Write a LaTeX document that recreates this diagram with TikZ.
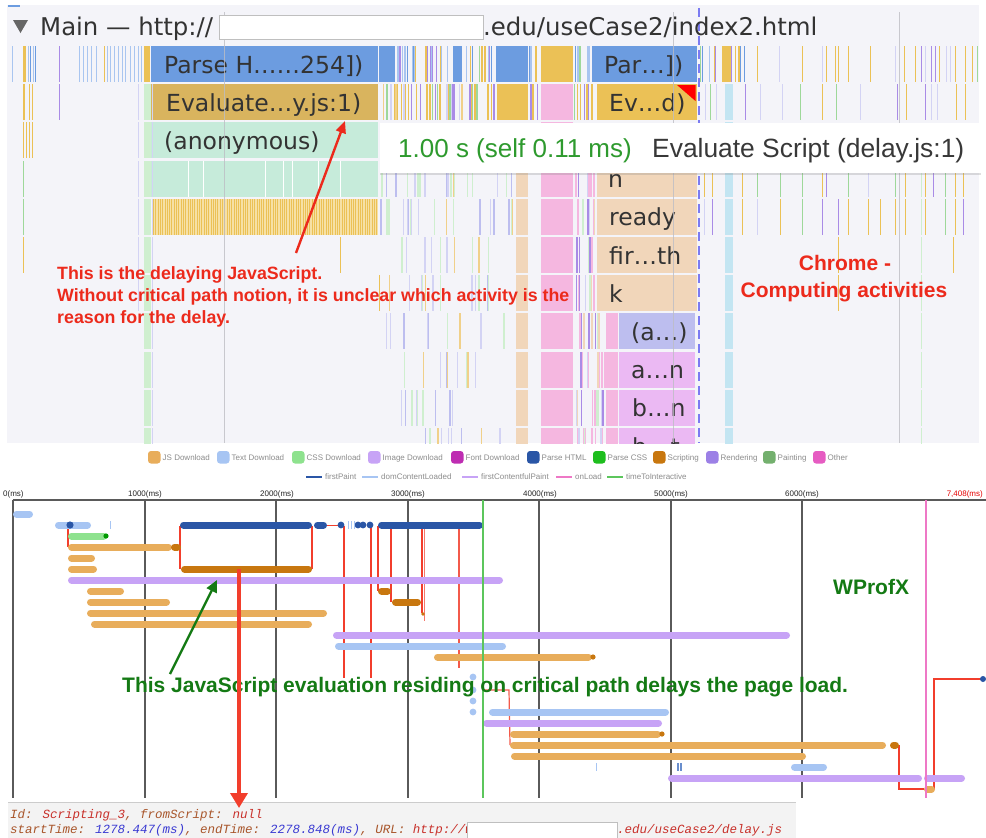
\documentclass[tikz,border=0pt]{standalone}
\usepackage{fontspec}
\setmainfont{Liberation Sans}
\newfontfamily\dvs{DejaVu Sans}
\newfontfamily\lmono{Liberation Mono}
\usetikzlibrary{arrows.meta,shadows}

% flame chart palette
\definecolor{panelbg}{HTML}{F4F4F9}
\definecolor{fBlue}{HTML}{6C9CE0}
\definecolor{fBlueL}{HTML}{A9C5F0}
\definecolor{fYel}{HTML}{EBC156}
\definecolor{fGold}{HTML}{D9B45E}
\definecolor{fPink}{HTML}{F5B7E0}
\definecolor{fMint}{HTML}{C6EBDA}
\definecolor{fTan}{HTML}{F1D6BA}
\definecolor{fLav}{HTML}{BDBEEF}
\definecolor{fMag}{HTML}{EBB9F3}
\definecolor{fPur}{HTML}{A98BE6}
\definecolor{fGrn}{HTML}{9ED89A}
\definecolor{fGrnP}{HTML}{CFEFCF}
\definecolor{fLavP}{HTML}{D3D3F4}
\definecolor{fYelP}{HTML}{F0D08A}
\definecolor{fYelBg}{HTML}{F6E1A6}
\definecolor{fCyan}{HTML}{C3E5F2}
\definecolor{fText}{HTML}{333333}
\definecolor{fDash}{HTML}{7B7BF2}
\definecolor{fGrid}{HTML}{BDBDC4}
\definecolor{tipGreen}{HTML}{2E9A2E}
\definecolor{noteRed}{HTML}{EC2A1C}
% WProfX palette
\definecolor{wJS}{HTML}{E8AD5B}
\definecolor{wText}{HTML}{A7C5F3}
\definecolor{wCSS}{HTML}{8EE28E}
\definecolor{wImg}{HTML}{C7A3F6}
\definecolor{wFont}{HTML}{BE2DB2}
\definecolor{wHTML}{HTML}{2A56A6}
\definecolor{wPCSS}{HTML}{1EBE1E}
\definecolor{wScr}{HTML}{C8770F}
\definecolor{wRend}{HTML}{9C80E6}
\definecolor{wPaint}{HTML}{74B06E}
\definecolor{wOther}{HTML}{E65CC2}
\definecolor{wCrit}{HTML}{F23E2C}
\definecolor{wAxis}{HTML}{5A5A5A}
\definecolor{wLegend}{HTML}{8C8C8C}
\definecolor{wTTI}{HTML}{5CC65C}
\definecolor{wLoad}{HTML}{EE78C6}
\definecolor{noteGreen}{HTML}{147A14}
\definecolor{infoBg}{HTML}{F3F3F3}
\definecolor{infoKey}{HTML}{A8552A}
\definecolor{infoStr}{HTML}{C8302A}
\definecolor{infoNum}{HTML}{3A3AD2}

\pgfmathdeclarerandomlist{mixA}{{fBlueL}{fBlue}{fYel}{fPur}{fGrn}{fBlueL}}
\pgfmathdeclarerandomlist{mixB}{{fYel}{fYel}{fYelP}{fPur}{fGrn}{fYel}{fLavP}}
\pgfmathdeclarerandomlist{mixC}{{fLavP}{fGrnP}{fLavP}{fYelP}{fGrnP}{fLav}}
\pgfmathdeclarerandomlist{mixD}{{fPink}{fLavP}{fTan}{fPink}{fGrnP}{fPur}}
\pgfmathdeclarerandomlist{mixR}{{fYel}{fYel}{fYel}{fYel}{fGrn}{fPur}{fLavP}}

% flame chart helpers (row index, x range, colour)
\newcommand\fblk[4]{\fill[#4] (#2,{46+(#1-1)*38.2}) rectangle (#3,{82+(#1-1)*38.2});}
\newcommand\fvl[3]{\fill[#3] (#2,{46+(#1-1)*38.2}) rectangle ++(1.3,36);}
\newcommand\fbusy[5]{\foreach \k in {1,...,#4}{%
  \pgfmathsetmacro\xx{#2+rnd*(#3-#2)}%
  \pgfmathrandomitem{\cc}{#5}%
  \fill[fill=\cc] (\xx,{46+(#1-1)*38.2}) rectangle ++(1.3,36);}}
\newcommand\fsparse[3]{\foreach \x in {#2}{%
  \pgfmathrandomitem{\cc}{#3}%
  \fill[fill=\cc] (\x,{46+(#1-1)*38.2}) rectangle ++(1.3,36);}}
\newcommand\flabel[4]{\node[flab] (#4) at (#2,{73+(#1-1)*38.2}) {#3};}
% WProfX bar: colour, x from, x to, y
\newcommand\wb[4]{\draw[wbar,#1] ({#2+3.5},#4) -- ({#3-3.5},#4);}

\tikzset{
  flab/.style={anchor=base west, inner sep=0pt, text=fText,
    font=\dvs\fontsize{23.5}{28}\selectfont},
  wbar/.style={line width=7pt, line cap=round},
  crit/.style={wCrit, line width=1.3pt},
  legtext/.style={anchor=base west, inner sep=0pt, text=wLegend,
    font=\fontsize{8}{9}\selectfont},
  axtext/.style={anchor=base, inner sep=0pt, text=black!85,
    font=\fontsize{8}{10}\selectfont},
  rednote/.style={anchor=base west, inner sep=0pt, text=noteRed,
    font=\bfseries\fontsize{17.8}{22}\selectfont},
  infotext/.style={anchor=base west, inner sep=0pt,
    font=\lmono\itshape\fontsize{12.5}{15}\selectfont},
}

\begin{document}
\begin{tikzpicture}[x=1pt,y=-1pt]
\useasboundingbox (0,0) rectangle (986,838);
\fill[white] (0,0) rectangle (986,838);
\pgfmathsetseed{11}

%================ Chrome DevTools flame chart ================
\begin{scope}
\clip (7,5) rectangle (979,443);
\fill[panelbg] (7,5) rectangle (979,443);

% row 1
\fvl{1}{12}{fBlueL}
\fblk{1}{23}{26}{fYel} \fvl{1}{27.5}{fBlueL} \fvl{1}{30}{fBlue} \fvl{1}{32.5}{fBlueL} \fvl{1}{35}{fBlue}
\fvl{1}{59}{fPur}
\foreach \x in {79,83,87,91,96}{\fvl{1}{\x}{fBlueL}}
\fvl{1}{104}{fYel}
\foreach \x in {107,110,114,118,122,125}{\fvl{1}{\x}{fBlueL}}
\foreach \x in {130,134,138,141}{\fvl{1}{\x}{fBlueL}}
\fblk{1}{144}{150}{fYel}
\fblk{1}{151}{378}{fBlue}
\fblk{1}{379}{395}{fBlue}
\fbusy{1}{395}{450}{24}{mixA}
\fblk{1}{453}{462}{fBlue}
\fbusy{1}{462}{495}{12}{mixA}
\fblk{1}{496}{528}{fBlue}
\fbusy{1}{529}{539}{4}{mixA}
\fblk{1}{541}{573}{fYel}
\fbusy{1}{574}{591}{7}{mixA}
\fblk{1}{592}{697}{fBlue}
\fbusy{1}{700}{745}{16}{mixA}
\fblk{1}{722}{731}{fYel}
\fsparse{1}{757,779,802,822,826,835,838,848,870,895,904,915,921,925,931,935,939,946,950,955,965,972,977}{mixR}

% row 2
\fblk{2}{23}{25}{fYel} \fvl{2}{29}{fYel} \fvl{2}{32}{fYel} \fvl{2}{59}{fPur}
\fbusy{2}{381}{496}{48}{mixB}
\fblk{2}{497}{528}{fYel}
\fbusy{2}{529}{539}{4}{mixB}
\fbusy{2}{574}{595}{8}{mixB}
\fblk{2}{151}{378}{fGold}
\fblk{2}{597}{697}{fYel}
\fill[red] (677,85) -- (695.5,85) -- (695.5,101) -- cycle;
\fsparse{2}{705,710,716,745,760,782,800,822,836,860,897,906,925,931,937,956,965}{mixR}

% row 3
\fvl{3}{23}{fYel} \fvl{3}{25.5}{fYel} \fvl{3}{29}{fYel} \fvl{3}{32}{fYel}
\fblk{3}{151}{378}{fMint}

% row 4
\fvl{4}{23}{fGrn}
\fblk{4}{151}{378}{fMint}
\foreach \x in {188,203,265,283,292,318,340}{\fill[white] (\x,160.6) rectangle ++(1.2,36);}
\fbusy{4}{380}{512}{22}{mixC}
\fsparse{4}{704,712,742,757,780,802,822,826,848,868,895,905,925,933,945,955,963}{mixR}

% row 5
\fvl{5}{23}{fGrn}
\fill[fYelBg] (153,198.8) rectangle (378,234.8);
\foreach \x in {153,155.3,...,377}{\fill[fYel] (\x,198.8) rectangle ++(0.9,36);}
\fbusy{5}{380}{512}{22}{mixC}
\fsparse{5}{704,712,742,757,780,802,822,838,848,868,880,895,905,925,945,955,963}{mixR}

% rows 6 and 7
\fvl{6}{23}{fYel} \fvl{6}{340}{fYel} \fvl{7}{379}{fYel}
\fvl{6}{838}{fYel} \fvl{7}{838}{fYel} \fvl{6}{953}{fYel}
\foreach \r in {6,7}{\fbusy{\r}{385}{505}{12}{mixC}}

% rows 8 to 11
\foreach \r in {8,...,11}{\fbusy{\r}{385}{505}{9}{mixC}}

% columns shared by many rows
\foreach \r in {2,...,7}{\fvl{\r}{138}{fLavP}}
\foreach \r in {2,...,11}{%
  \fblk{\r}{144}{151}{fGrnP}\fvl{\r}{151.5}{fLavP}%
  \fblk{\r}{541}{573}{fPink}%
  \fblk{\r}{725}{733}{fCyan}}
\foreach \r in {4,...,11}{%
  \fblk{\r}{516}{528}{fTan}\fvl{\r}{921}{fGrnP}}
\foreach \r in {4,...,7}{%
  \fbusy{\r}{575}{595}{7}{mixD}\fblk{\r}{597}{697}{fTan}}
\foreach \r in {8,...,11}{%
  \fbusy{\r}{575}{605}{10}{mixD}\fblk{\r}{606}{618}{fPink}}
\fblk{8}{619}{695}{fLav}
\foreach \r in {9,10,11}{\fblk{\r}{619}{695}{fMag}}

% bar labels
\flabel{1}{164}{Parse H……254])}{lparse}
\flabel{2}{166}{Evaluate…y.js:1)}{leval}
\flabel{3}{164}{(anonymous)}{lanon}
\flabel{1}{604}{Par…])}{lpar}
\flabel{2}{609}{Ev…d)}{lev}
\flabel{4}{608}{n}{ln}
\flabel{5}{609}{ready}{lready}
\flabel{6}{609}{fir…th}{lfir}
\flabel{7}{609}{k}{lk}
\flabel{8}{631}{(a…)}{la}
\flabel{9}{631}{a…n}{lan}
\flabel{10}{632}{b…n}{lbn}
\flabel{11}{632}{b…t}{lbt}

% time grid and frame marker
\foreach \x in {224.5,673.5,899}{\draw[fGrid, line width=1pt, opacity=.8] (\x,12) -- (\x,443);}
\draw[fDash, line width=2pt, dash pattern=on 9pt off 5pt] (699,8) -- (699,443);

% header
\fill[fBlue] (8,4.5) rectangle (20,6.5);
\fill[black!60] (13,20) -- (28,20) -- (20.5,33) -- cycle;
\node[anchor=base west, inner sep=0pt, text=black!80, font=\dvs\fontsize{24.4}{28}\selectfont]
  (hmain) at (40,35) {Main — http://};
\fill[white, draw=black!25, line width=.6pt] (219,15) rectangle (483.5,39);
\node[anchor=base west, inner sep=0pt, text=black!80, font=\dvs\fontsize{24.4}{28}\selectfont]
  (hurl) at (483,35) {.edu/useCase2/index2.html};
\end{scope}

% tooltip
\path[fill=white, drop shadow={opacity=0.25, shadow xshift=0pt, shadow yshift=-2pt}]
  (380,123) rectangle (981,173);
\node[anchor=base west, inner sep=0pt, text=tipGreen, font=\fontsize{26}{30}\selectfont]
  (tipdur) at (398,157) {1.00 s (self 0.11 ms)};
\node[anchor=base west, inner sep=0pt, text=black!78, font=\fontsize{26.4}{30}\selectfont]
  (tipname) at (652,157) {Evaluate Script (delay.js:1)};

% annotations on the flame chart
\node[rednote] (note1) at (57,279) {This is the delaying JavaScript.};
\node[rednote] (note2) at (57,301) {Without critical path notion, it is unclear which activity is the};
\node[rednote] (note3) at (57,323) {reason for the delay.};
\node[anchor=base, inner sep=0pt, text=noteRed, font=\bfseries\fontsize{21}{25}\selectfont]
  (chrome1) at (845,270) {Chrome -};
\node[anchor=base, inner sep=0pt, text=noteRed, font=\bfseries\fontsize{21}{25}\selectfont]
  (chrome2) at (844,297) {Computing activities};
\coordinate (redtail) at (296,253);
\coordinate (redtip) at (345,121);
\draw[noteRed, line width=2.4pt, -{Triangle[width=10pt,length=12pt]}] (redtail) -- (redtip);

%================ WProfX waterfall ================
% legend
\foreach \x/\c/\t/\n in {148/wJS/JS Download/gjs, 217/wText/Text Download/gtext,
    292/wCSS/CSS Download/gcss, 368/wImg/Image Download/gimg, 451/wFont/Font Download/gfont,
    527/wHTML/Parse HTML/ghtml, 593/wPCSS/Parse CSS/gpcss, 653/wScr/Scripting/gscr,
    706/wRend/Rendering/grend, 763/wPaint/Painting/gpaint, 813/wOther/Other/gother}{%
  \fill[\c, rounded corners=3pt] (\x,451) rectangle ++(12.5,12.5);
  \node[legtext] (\n) at (\x+14.5,460.3) {\t};}
\foreach \x/\c/\t/\n in {306/wHTML/firstPaint/gfp, 362/wText/domContentLoaded/gdcl,
    462/wImg/firstContentfulPaint/gfcp, 556/wLoad/onLoad/gload, 607/wTTI/timeToInteractive/gtti}{%
  \draw[\c, line width=2pt] (\x,476.5) -- ++(16,0);
  \node[legtext] (\n) at (\x+19,479.3) {\t};}

% axis
\node[axtext, anchor=base west] (t0) at (3,496) {0(ms)};
\foreach \x/\t/\n in {145/1000(ms)/t1, 277/2000(ms)/t2, 408/3000(ms)/t3,
    540/4000(ms)/t4, 671/5000(ms)/t5, 802/6000(ms)/t6}{\node[axtext] (\n) at (\x,496) {\t};}
\node[axtext, anchor=base east, text=red!90!black] (tend) at (983,496) {7,408(ms)};
\draw[wAxis, line width=1.2pt] (13,500) -- (986,500);
\foreach \x in {13,145,276,408,539,671,802}{\draw[wAxis, line width=1.2pt] (\x,500) -- (\x,798);}

% critical path links
\draw[crit] (68,527) -- (68,547);
\draw[crit, line width=1.6pt] (180,526) -- (180,569);
\draw[crit] (312,526) -- (312,569);
\draw[crit, line width=1pt] (327,525) -- (338,525);
\draw[crit, line width=2pt] (344,526) -- (344,678);
\draw[crit, line width=1.5pt] (371,526) -- (371,678);
\draw[crit] (378,526) -- (378,591);
\draw[crit] (391,526) -- (391,602);
\draw[crit] (422,526) -- (422,613);
\draw[crit, line width=1pt, opacity=.7] (424.5,526) -- (424.5,621);
\draw[crit, line width=1.4pt, opacity=.85] (459,526) -- (459,668);
\draw[crit, line width=1.2pt, opacity=.85] (483,690) -- (509,690) -- (510,745);
\draw[crit, line width=1.2pt] (899,745) -- (899,789) -- (924,789);
\draw[crit, line width=1.2pt] (934,789) -- (934,679) -- (983,679);

% activity bars
\wb{wText}{13}{33}{514}
\wb{wText}{55}{91}{525}
\fill[wHTML] (70,525) circle (3.6);
\draw[wText, line width=1pt] (110,521) -- (110,529);
\wb{wHTML}{180}{312}{525}
\wb{wHTML}{314}{327}{525}
\foreach \x in {341,358,363,370}{\fill[wHTML] (\x,525) circle (3.4);}
\foreach \x in {348,351,354}{\draw[wText, line width=1pt] (\x,521) -- (\x,529);}
\wb{wHTML}{378}{483}{525}
\wb{wCSS}{68}{107}{536}
\fill[green!60!black] (106,536) circle (2.6);
\wb{wJS}{68}{172}{547}
\wb{wScr}{171}{181}{547}
\wb{wJS}{68}{95}{558}
\wb{wJS}{68}{97}{569}
\wb{wScr}{181}{312}{569}
\wb{wImg}{68}{503}{580}
\wb{wJS}{87}{124}{591}
\wb{wScr}{378}{391}{591}
\wb{wJS}{87}{170}{602}
\wb{wScr}{392}{421}{602}
\wb{wJS}{87}{327}{613}
\fill[wScr] (423,614) circle (1.8);
\wb{wJS}{91}{312}{624}
\wb{wImg}{333}{790}{635}
\wb{wText}{335}{506}{646}
\wb{wJS}{434}{592}{657}
\fill[wScr] (593,657) circle (2.6);
\foreach \y in {677,690,701,712}{\fill[wText] (473,\y) circle (3.4);}
\wb{wText}{489}{669}{712}
\wb{wImg}{483}{662}{723}
\wb{wJS}{510}{661}{734}
\fill[wScr] (662,734) circle (2.6);
\wb{wJS}{510}{886}{745}
\wb{wScr}{890}{899}{745}
\wb{wJS}{511}{806}{756}
\draw[wText, line width=1pt] (596,763) -- (596,771);
\draw[wHTML!50!wText, line width=1.4pt] (678,763) -- (678,771);
\draw[wHTML!50!wText, line width=1.4pt] (681,763) -- (681,771);
\wb{wText}{791}{827}{767}
\wb{wImg}{668}{922}{778}
\wb{wImg}{924}{965}{778}
\wb{wJS}{924}{935}{789}
\fill[wHTML] (983,679) circle (3);

% page milestones
\draw[wTTI, line width=1.6pt] (483,500) -- (483,798);
\draw[wLoad, line width=1.4pt] (926,500) -- (926,798);

% WProfX annotations
\node[anchor=base west, inner sep=0pt, text=noteGreen, font=\bfseries\fontsize{21}{25}\selectfont]
  (wprofx) at (833,594) {WProfX};
\node[anchor=base west, inner sep=0pt, text=noteGreen, font=\bfseries\fontsize{21}{25}\selectfont]
  (note4) at (122,692) {This JavaScript evaluation residing on critical path delays the page load.};
\coordinate (gtail) at (170,674);
\coordinate (gtip) at (217,580);
\draw[noteGreen, line width=2.4pt, -{Triangle[width=11pt,length=12pt]}] (gtail) -- (gtip);

% details of the selected activity
\fill[infoBg] (8,802) rectangle (796,838);
\draw[black!20, line width=1pt] (8,802.5) -- (796,802.5);
\node[infotext] (info1) at (10,818)
  {\color{infoKey}Id: \color{infoStr}Scripting\_3\color{infoKey}, fromScript: \color{infoStr}null};
\node[infotext] (info2) at (10,833)
  {\color{infoKey}startTime: \color{infoNum}1278.447(ms)\color{infoKey}, endTime: \color{infoNum}2278.848(ms)\color{infoKey}, URL: \color{infoStr}http://w};
\fill[white, draw=black!25, line width=.6pt] (467,822) rectangle (617,838);
\node[infotext, text=infoStr] (info3) at (617,833) {.edu/useCase2/delay.js};

% pointer from the scripting bar to its details
\coordinate (bartop) at (239,569);
\coordinate (infotop) at (239,808);
\draw[wCrit, line width=3.5pt, -{Triangle[width=17pt,length=15pt]}] (bartop) -- (infotop);
\end{tikzpicture}
\end{document}
